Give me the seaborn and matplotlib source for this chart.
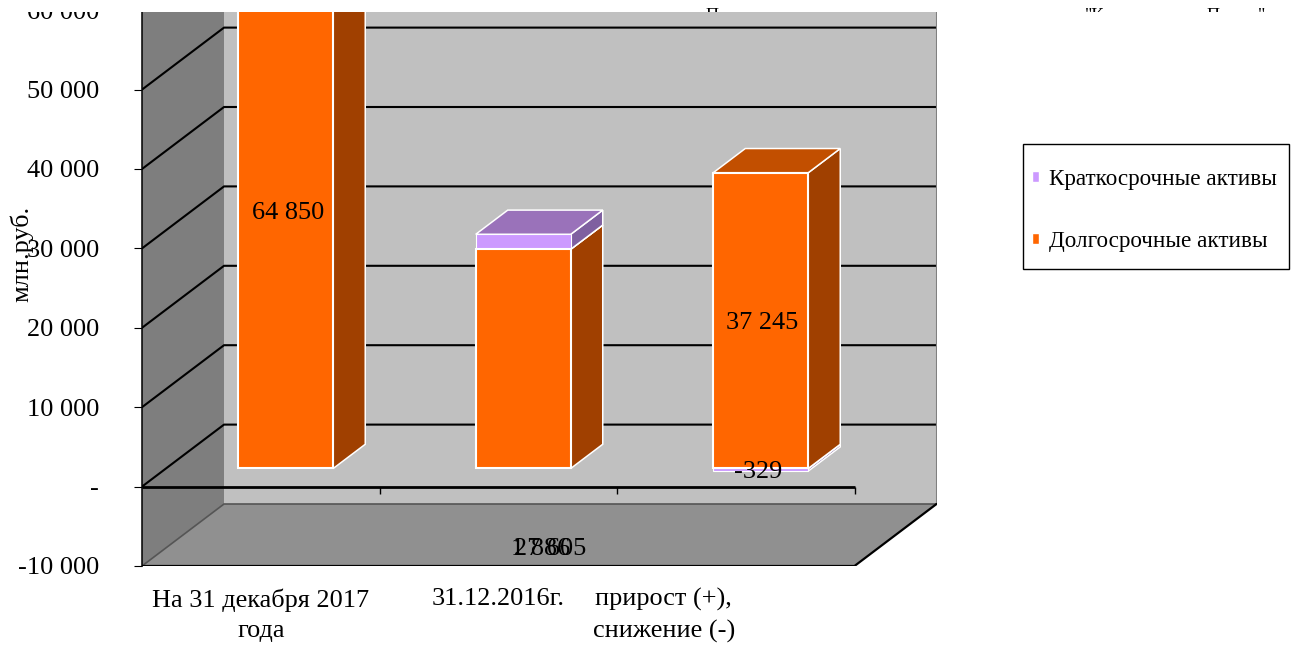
import matplotlib
matplotlib.use('Agg')
import matplotlib.pyplot as plt
from matplotlib.patches import Rectangle
import seaborn as sns

categories = ['На 31 декабря 2017\nгода', '31.12.2016г.', 'прирост (+),\nснижение (-)']
long_term = [64850, 27605, 37245]
short_term = [1557, 1886, -329]
legend_labels = ['Краткосрочные активы', 'Долгосрочные активы']
y_ticks = [-10000, 0, 10000, 20000, 30000, 40000, 50000, 60000]
y_tick_labels = ['-10 000', '-', '10 000', '20 000', '30 000', '40 000', '50 000', '60 000']
y_title = 'млн.руб.'

W, H = 1309, 645
FONT = 18.9
LEGEND_FONT = 16.7

# 3d look: how far the back wall is shifted from the front plane
PX_CAT = 237.5
PX_VAL = 79.4 / 10000
DX = 82 / PX_CAT
DY = 62 / PX_VAL
BAR_D0 = 24 / 82
BAR_D1 = 56 / 82
BAR_W = 95 / PX_CAT
BAR_SHIFT = 1 / PX_CAT
LABEL_DROP = 2.5 / PX_VAL

ORANGE = ('#ff6600', '#a04000', '#c24f00')
LILAC = ('#cc99ff', '#7f60a0', '#9a72ba')


def project(x, y, d):
    return x + d * DX, y + d * DY


def face(ax, pts, color, z, edge='none', lw=0):
    xs = [p[0] for p in pts]
    ys = [p[1] for p in pts]
    ax.fill(xs, ys, facecolor=color, edgecolor=edge, linewidth=lw, zorder=z, joinstyle='miter')


def bar_3d_faces(ax, x, y0, y1, colors, z):
    # side and top of a bar, the front comes from seaborn
    xl, xr = x + BAR_SHIFT - BAR_W / 2, x + BAR_SHIFT + BAR_W / 2
    side = [project(xr, y0, BAR_D0), project(xr, y1, BAR_D0), project(xr, y1, BAR_D1), project(xr, y0, BAR_D1)]
    top = [project(xl, y1, BAR_D0), project(xr, y1, BAR_D0), project(xr, y1, BAR_D1), project(xl, y1, BAR_D1)]
    face(ax, side, colors[1], z, 'white', 1.1)
    face(ax, top, colors[2], z, 'white', 1.1)


sns.set_theme(style='white')
plt.rcParams['font.family'] = ['Liberation Serif', 'DejaVu Sans']
plt.rcParams['text.color'] = 'black'

fig = plt.figure(figsize=(W / 100, H / 100), dpi=100)
ax = fig.add_axes([142 / W, 1 - 566 / H, (937 - 142) / W, 566 / H])
ax.patch.set_visible(False)

x_lo, x_hi = -0.5, 2.5
y_lo = y_ticks[0]
y_hi = y_lo + 566 / PX_VAL
ax_x_hi = x_lo + (937 - 142) / PX_CAT

# walls and floor
back_top = y_hi
face(ax, [project(x_lo, y_lo, 1), project(x_hi, y_lo, 1), project(x_hi, back_top, 1), project(x_lo, back_top, 1)], '#c0c0c0', 1)
face(ax, [project(x_lo, y_lo, 0), project(x_lo, y_lo, 1), project(x_lo, back_top, 1), project(x_lo, back_top, 0)], '#7e7e7e', 1)
face(ax, [project(x_lo, y_lo, 0), project(x_hi, y_lo, 0), project(x_hi, y_lo, 1), project(x_lo, y_lo, 1)], '#909090', 1)

# gridlines on both walls
for v in y_ticks:
    xa, ya = project(x_lo, v, 0)
    xb, yb = project(x_lo, v, 1)
    xc, yc = project(x_hi, v, 1)
    if v == y_lo:
        ax.plot([xa, xb, xc], [ya, yb, yc], color='#555555', lw=1.2, zorder=2)
    else:
        ax.plot([xa, xb, xc], [ya, yb, yc], color='black', lw=1.5, zorder=2)
xa, ya = project(x_hi, y_lo, 1)
ax.plot([xa, xa], [ya, y_hi], color='#808080', lw=1.5, zorder=2)

# bars
positions = [i + BAR_SHIFT + BAR_D0 * DX for i in range(len(categories))]
base = BAR_D0 * DY
short_bottom = [base + l if s > 0 else base for l, s in zip(long_term, short_term)]

for i in range(len(categories)):
    bar_3d_faces(ax, i, 0, long_term[i], ORANGE, 3)
    if short_term[i] > 0:
        bar_3d_faces(ax, i, long_term[i], long_term[i] + short_term[i], LILAC, 3)
    else:
        bar_3d_faces(ax, i, short_term[i], 0, LILAC, 2.9)

sns.barplot(x=positions, y=short_term, bottom=short_bottom, color=LILAC[0], width=BAR_W,
            native_scale=True, saturation=1, edgecolor='white', linewidth=0.8, zorder=3.5,
            errorbar=None, ax=ax)
sns.barplot(x=positions, y=long_term, bottom=base, color=ORANGE[0], width=BAR_W,
            native_scale=True, saturation=1, edgecolor='white', linewidth=1.5, zorder=4,
            errorbar=None, ax=ax)

# front edges
ax.plot([x_lo, x_hi], [0, 0], color='black', lw=2, zorder=5, solid_capstyle='butt')
ax.vlines([0.5, 1.5, 2.5], -900, 0, color='black', lw=1, zorder=5)
xb, yb = project(x_hi, y_lo, 1)
ax.plot([x_lo, x_hi, xb], [y_lo, y_lo, yb], color='black', lw=1.6, zorder=5)

# data labels
ax.text(positions[0] + 0.012, base + long_term[0] / 2 - LABEL_DROP, '64 850', ha='center', va='center', fontsize=FONT, zorder=6)
ax.text(positions[2] + 0.004, base + long_term[2] / 2 - LABEL_DROP, '37 245', ha='center', va='center', fontsize=FONT, zorder=6)
ax.text(positions[2] - 0.01, base + short_term[2] / 2 - LABEL_DROP, '-329', ha='center', va='center', fontsize=FONT, zorder=6)
ax.text(1.18, -7500 - LABEL_DROP, '1 886', ha='center', va='center', fontsize=FONT, zorder=6)
ax.text(1.22, -7500 - LABEL_DROP, '27 605', ha='center', va='center', fontsize=FONT, zorder=6)

# axes
ax.set_xlim(x_lo, ax_x_hi)
ax.set_ylim(y_lo, y_hi)
ax.set_yticks(y_ticks)
ax.set_yticklabels(y_tick_labels, fontsize=FONT)
ax.set_xticks([0, 1, 1.697])
ax.set_xticklabels(categories, fontsize=FONT, linespacing=1.46)
ax.tick_params(axis='y', length=5.8, width=0.8, color='black', pad=25, left=True, labelcolor='black')
ax.tick_params(axis='x', length=0, pad=16, labelcolor='black')
ax.set_xlabel('')
ax.set_ylabel(y_title, fontsize=FONT, color='black')
ax.yaxis.set_label_coords((33 - 142) / (937 - 142), (566 - 254) / 566)
for s in ['top', 'right', 'bottom']:
    ax.spines[s].set_visible(False)
ax.spines['left'].set_color('black')
ax.spines['left'].set_linewidth(1.1)
ax.spines['left'].set_zorder(6)

# legend
handles = [Rectangle((0, 0), 1, 1, facecolor=LILAC[0]), Rectangle((0, 0), 1, 1, facecolor=ORANGE[0])]
fig.add_artist(Rectangle((1023 / W, 1 - 269 / H), 266 / W, 125 / H, transform=fig.transFigure,
                         facecolor='white', edgecolor='black', linewidth=1, zorder=1))
leg = fig.legend(handles, legend_labels, loc='upper left', bbox_to_anchor=(1032 / W, 1 - 169 / H),
                 bbox_transform=fig.transFigure, frameon=False, fontsize=LEGEND_FONT, borderpad=0, borderaxespad=0,
                 handlelength=0.32, handleheight=0.32, handletextpad=0.43, labelspacing=1.75, labelcolor='black')
leg.set_zorder(2)

# picture is cut off at the top, only the caps of the heading stay visible
fig.add_artist(Rectangle((0, 1 - 12 / H), 1, 12 / H, transform=fig.transFigure, facecolor='white',
                         edgecolor='none', zorder=5))
clip = Rectangle((0, 1 - 12 / H), 1, 12 / H, transform=fig.transFigure)
for px, s in [(706, 'П'), (1085, '"К'), (1207, 'П'), (1258, '"')]:
    t = fig.text(px / W, 1 - 8 / H, s, fontsize=13, color='black', va='top', ha='left', zorder=6)
    t.set_clip_path(clip)
    t.set_clip_on(True)

fig.savefig('out.png', dpi=100)
